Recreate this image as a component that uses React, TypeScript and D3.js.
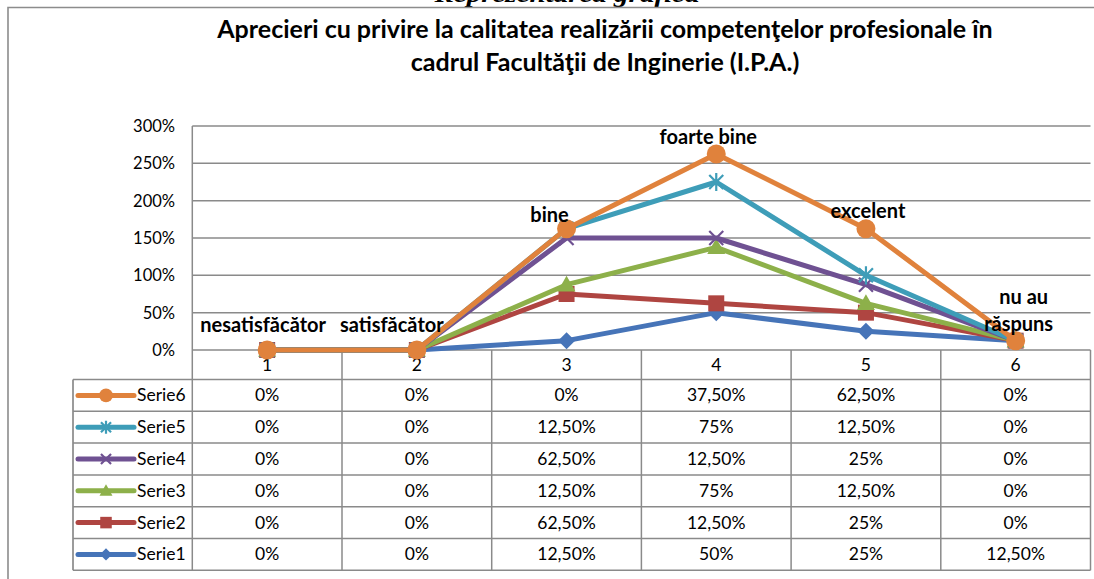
import React from 'react';
import * as d3 from 'd3';

const categories = ['1', '2', '3', '4', '5', '6'];
const categoryLabels = ['nesatisfăcător', 'satisfăcător', 'bine', 'foarte bine', 'excelent', 'nu au|răspuns'];
const seriesNames = ['Serie1', 'Serie2', 'Serie3', 'Serie4', 'Serie5', 'Serie6'];
const serie1 = [0, 0, 0.125, 0.5, 0.25, 0.125];
const serie2 = [0, 0, 0.625, 0.125, 0.25, 0];
const serie3 = [0, 0, 0.125, 0.75, 0.125, 0];
const serie4 = [0, 0, 0.625, 0.125, 0.25, 0];
const serie5 = [0, 0, 0.125, 0.75, 0.125, 0];
const serie6 = [0, 0, 0, 0.375, 0.625, 0];
const yTicks = [0, 0.5, 1, 1.5, 2, 2.5, 3];
const titleLines = ['Aprecieri cu privire la calitatea realizării competenţelor profesionale în', 'cadrul Facultăţii de Inginerie (I.P.A.)'];

const seriesValues = [serie1, serie2, serie3, serie4, serie5, serie6];
const colors = ['#4674B8', '#AF4541', '#8DB04A', '#6F5192', '#3E9DB8', '#E0823C'];
const markers = ['diamond', 'square', 'triangle', 'x', 'star', 'circle'];

const FONT = 'Lato, Carlito, Calibri, sans-serif';
const GRID = '#8a8a8a';

function Marker({ type, cx, cy, color, s = 1 }: { type: string; cx: number; cy: number; color: string; s?: number }) {
  switch (type) {
    case 'circle':
      return <circle cx={cx} cy={cy} r={9.5 * s} fill={color} />;
    case 'square':
      return <rect x={cx - 8 * s} y={cy - 8 * s} width={16 * s} height={16 * s} fill={color} />;
    case 'diamond': {
      const r = 8.5 * s;
      return <path d={`M${cx},${cy - r}L${cx + r},${cy}L${cx},${cy + r}L${cx - r},${cy}Z`} fill={color} />;
    }
    case 'triangle': {
      const r = 9 * s;
      return <path d={`M${cx},${cy - r}L${cx + r},${cy + r * 0.75}L${cx - r},${cy + r * 0.75}Z`} fill={color} />;
    }
    case 'x': {
      const r = 7 * s;
      return (
        <path d={`M${cx - r},${cy - r}L${cx + r},${cy + r}M${cx - r},${cy + r}L${cx + r},${cy - r}`} stroke={color} strokeWidth={2.2} fill="none" />
      );
    }
    case 'star': {
      const r = 7 * s;
      return (
        <path
          d={`M${cx - r},${cy - r}L${cx + r},${cy + r}M${cx - r},${cy + r}L${cx + r},${cy - r}M${cx},${cy - r * 1.3}L${cx},${cy + r * 1.3}`}
          stroke={color}
          strokeWidth={2.2}
          fill="none"
        />
      );
    }
    default:
      return null;
  }
}

function fmtPct(v: number) {
  const p = Math.round(v * 10000) / 100;
  if (Number.isInteger(p)) return `${p}%`;
  return `${p.toFixed(2).replace('.', ',')}%`;
}

export default function App() {
  const W = 1094;
  const H = 579;
  const plotLeft = 192.3;
  const plotRight = 1090.5;
  const plotTop = 126;
  const plotBottom = 350;
  const tableLeft = 73;
  const headerBottom = 379.5;
  const rowH = 31.8;
  const FS = 17.5;

  const x = d3.scaleBand().domain(categories).range([plotLeft, plotRight]).padding(0);
  const bw = x.bandwidth();
  const cx = (c: string) => (x(c) as number) + bw / 2;
  const y = d3.scaleLinear().domain([0, 3]).range([plotBottom, plotTop]);

  // stacked (cumulative) values
  const stacked: number[][] = [];
  seriesValues.forEach((vals, si) => {
    stacked.push(vals.map((v, i) => v + (si > 0 ? stacked[si - 1][i] : 0)));
  });

  const line = d3
    .line<number>()
    .x((_, i) => cx(categories[i]))
    .y((d) => y(d));

  const tableBottom = headerBottom + rowH * seriesNames.length;
  const rowOrder = [...seriesNames.keys()].reverse();

  // per-line offsets [dx, dy] of the category labels from the top point
  const labelOffsets = [
    [[-4, -18]],
    [[-25, -18]],
    [[-17, -7]],
    [[-8, -10]],
    [[2, -11]],
    [[8, -37], [3, -10]],
  ];
  const top = stacked[stacked.length - 1];

  return (
    <svg width={W} height={H} style={{ position: 'absolute', left: 0, top: 0, background: '#fff' }} fontFamily={FONT}>
      <rect x={0} y={0} width={W} height={H} fill="#fff" />
      {/* cut off heading above */}
      <text x={567} y={2} textAnchor="middle" fontFamily="'Liberation Serif', 'Times New Roman', serif" fontStyle="italic" fontWeight="bold" fontSize={24} fill="#000" textLength={265} lengthAdjust="spacingAndGlyphs">
        Reprezentarea grafică
      </text>
      {/* chart border */}
      <path d={`M8,${H}L8,7.5L${W + 2},7.5`} stroke="#8c8c8c" strokeWidth={1.6} fill="none" />

      {/* title */}
      {titleLines.map((t, i) => (
        <text key={i} x={605} y={38 + i * 33} textAnchor="middle" fontWeight="bold" fontSize={25} fill="#000">
          {t}
        </text>
      ))}

      {/* gridlines */}
      {yTicks.map((t) => (
        <g key={t}>
          <line x1={plotLeft} x2={plotRight} y1={y(t)} y2={y(t)} stroke={GRID} strokeWidth={1.5} />
          <text x={175} y={y(t) + 6} textAnchor="end" fontSize={16.5} fill="#000">
            {fmtPct(t)}
          </text>
        </g>
      ))}

      {/* table grid */}
      <line x1={plotLeft} x2={plotLeft} y1={plotTop} y2={tableBottom} stroke={GRID} strokeWidth={1.5} />
      <line x1={plotRight} x2={plotRight} y1={plotBottom} y2={tableBottom} stroke={GRID} strokeWidth={1.5} />
      {categories.slice(1).map((c) => (
        <line key={c} x1={x(c)} x2={x(c)} y1={plotBottom} y2={tableBottom} stroke={GRID} strokeWidth={1.5} />
      ))}
      <line x1={tableLeft} x2={tableLeft} y1={headerBottom} y2={tableBottom} stroke={GRID} strokeWidth={1.7} />
      {d3.range(seriesNames.length + 1).map((r) => (
        <line key={r} x1={tableLeft} x2={plotRight} y1={headerBottom + r * rowH} y2={headerBottom + r * rowH} stroke={GRID} strokeWidth={1.5} />
      ))}
      {categories.map((c) => (
        <text key={c} x={cx(c)} y={371} textAnchor="middle" fontSize={FS} fill="#000">
          {c}
        </text>
      ))}

      {/* table rows */}
      {rowOrder.map((si, r) => {
        const yc = headerBottom + (r + 0.5) * rowH;
        return (
          <g key={si}>
            <line x1={78} x2={134} y1={yc} y2={yc} stroke={colors[si]} strokeWidth={5} strokeLinecap="round" />
            <Marker type={markers[si]} cx={106} cy={yc} color={colors[si]} s={0.72} />
            <text x={137} y={yc + 6} fontSize={FS} fill="#000">
              {seriesNames[si]}
            </text>
            {seriesValues[si].map((v, i) => (
              <text key={i} x={cx(categories[i])} y={yc + 6} textAnchor="middle" fontSize={FS} fill="#000">
                {fmtPct(v)}
              </text>
            ))}
          </g>
        );
      })}

      {/* lines */}
      {stacked.map((vals, si) => (
        <g key={si}>
          <path d={line(vals) as string} stroke={colors[si]} strokeWidth={5} fill="none" strokeLinejoin="round" />
          {vals.map((v, i) => (
            <Marker key={i} type={markers[si]} cx={cx(categories[i])} cy={y(v)} color={colors[si]} />
          ))}
        </g>
      ))}

      {/* category data labels */}
      {categoryLabels.map((lab, i) => {
        const px = cx(categories[i]);
        const py = y(top[i]);
        const parts = lab.split('|');
        return (
          <g key={i}>
            {parts.map((p, k) => (
              <text key={k} x={px + labelOffsets[i][k][0]} y={py + labelOffsets[i][k][1]} textAnchor="middle" fontWeight="bold" fontSize={20} fill="#000">
                {p}
              </text>
            ))}
          </g>
        );
      })}
    </svg>
  );
}
